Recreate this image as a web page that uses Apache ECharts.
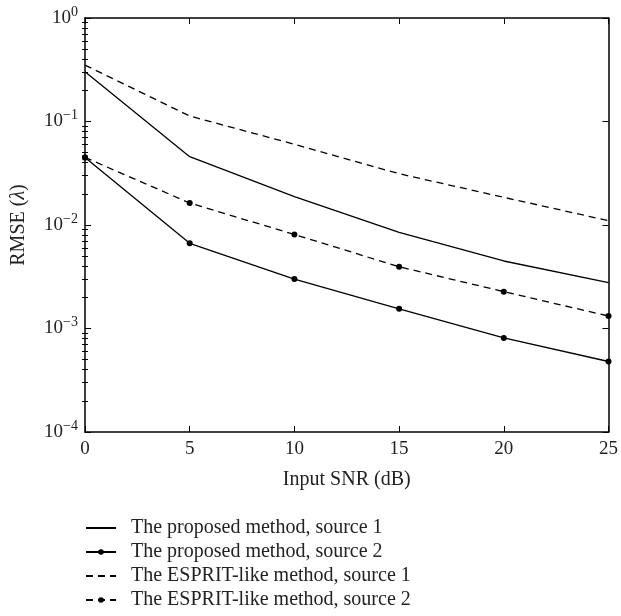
<!DOCTYPE html>
<html>
<head>
<meta charset="utf-8">
<script src="https://cdn.jsdelivr.net/npm/echarts@6/dist/echarts.min.js"></script>
<style>html,body{margin:0;padding:0;background:#fff;}#c{width:621px;height:616px;}</style>
</head>
<body>
<div id="c"></div>
<script>
const snr = [0, 5, 10, 15, 20, 25];
const proposedSrc1 = [0.303, 0.0457, 0.0188, 0.0085, 0.00449, 0.00277];
const proposedSrc2 = [0.045, 0.00665, 0.0030, 0.00155, 0.00081, 0.00048];
const espritSrc1 = [0.351, 0.113, 0.0602, 0.0313, 0.0185, 0.0110];
const espritSrc2 = [0.045, 0.0163, 0.0081, 0.00395, 0.00227, 0.00132];
const seriesNames = [
  'The proposed method, source 1',
  'The proposed method, source 2',
  'The ESPRIT-like method, source 1',
  'The ESPRIT-like method, source 2'
];
const majorY = [1e-4, 1e-3, 1e-2, 1e-1, 1];
const minorY = [];
for (let e = -4; e < 0; e++) for (let m = 2; m <= 9; m++) minorY.push(m * Math.pow(10, e));
const xTicks = [0, 5, 10, 15, 20, 25];

const FONT = 'Liberation Serif';
const C = '#222';
const pairs = a => snr.map((x, i) => [x, a[i]]);
const hidden = { color: 'rgba(0,0,0,0)', borderWidth: 0, opacity: 0 };

const yBase = {
  type: 'log', min: 1e-4, max: 1, logBase: 10,
  splitLine: { show: false },
  axisLine: { show: false }
};

const chart = echarts.init(document.getElementById('c'), null, { renderer: 'canvas' });
chart.setOption({
  animation: false,
  grid: { left: 85, right: 11, top: 18, bottom: 184, containLabel: false },
  legend: {
    orient: 'vertical', left: 85, top: 518, padding: 0,
    itemWidth: 30, itemHeight: 7, itemGap: 4,
    textStyle: { fontFamily: FONT, fontSize: 20, color: C, lineHeight: 20, padding: [0, 0, 0, 10] },
    data: [
      { name: seriesNames[0], itemStyle: hidden },
      { name: seriesNames[1] },
      { name: seriesNames[2], itemStyle: hidden },
      { name: seriesNames[3] }
    ]
  },
  xAxis: [
    {
      type: 'value', min: 0, max: 25, interval: 5, position: 'bottom',
      name: 'Input SNR (dB)', nameLocation: 'middle', nameGap: 38,
      nameTextStyle: { fontFamily: FONT, fontSize: 20, color: C },
      axisLine: { show: true, onZero: false, lineStyle: { color: '#000', width: 1.5 } },
      axisTick: { show: true, inside: true, length: 6, lineStyle: { color: '#000' }, customValues: xTicks },
      axisLabel: { fontFamily: FONT, fontSize: 19, color: C, margin: 8, customValues: xTicks },
      splitLine: { show: false }
    },
    {
      type: 'value', min: 0, max: 25, interval: 5, position: 'top',
      axisLine: { show: true, onZero: false, lineStyle: { color: '#000', width: 1.5 } },
      axisTick: { show: true, inside: true, length: 6, lineStyle: { color: '#000' }, customValues: xTicks },
      axisLabel: { show: false },
      splitLine: { show: false }
    }
  ],
  yAxis: [
    Object.assign({}, yBase, {
      position: 'left',
      name: '{n|RMSE (}{l|λ}{n|)}', nameLocation: 'middle', nameGap: 56,
      nameTextStyle: { rich: { n: { fontFamily: FONT, fontSize: 20, color: C }, l: { fontFamily: FONT, fontSize: 20, color: C, fontStyle: 'italic' } } },
      axisLine: { show: true, onZero: false, lineStyle: { color: '#000', width: 1.5 } },
      axisTick: { show: true, inside: true, length: 6, lineStyle: { color: '#000' }, customValues: majorY },
      axisLabel: {
        customValues: majorY, margin: 7,
        formatter: v => '{b|10}{s|' + String(Math.round(Math.log10(v))).replace('-', '−') + '}',
        rich: {
          b: { fontFamily: FONT, fontSize: 19, color: C },
          s: { fontFamily: FONT, fontSize: 14, color: C, verticalAlign: 'top', padding: [0, 0, 12, 0] }
        }
      }
    }),
    Object.assign({}, yBase, {
      position: 'right',
      axisLine: { show: true, onZero: false, lineStyle: { color: '#000', width: 1.5 } },
      axisTick: { show: true, inside: true, length: 6, lineStyle: { color: '#000' }, customValues: majorY },
      axisLabel: { show: false }
    }),
    Object.assign({}, yBase, {
      position: 'left',
      axisTick: { show: true, inside: true, length: 3, lineStyle: { color: '#000' }, customValues: minorY },
      axisLabel: { show: false }
    }),
    Object.assign({}, yBase, {
      position: 'right',
      axisTick: { show: true, inside: true, length: 3, lineStyle: { color: '#000' }, customValues: minorY },
      axisLabel: { show: false }
    })
  ],
  series: [
    { name: seriesNames[0], type: 'line', data: pairs(proposedSrc1), symbol: 'none',
      lineStyle: { color: '#000', width: 1.3, type: 'solid' }, itemStyle: { color: '#000' } },
    { name: seriesNames[1], type: 'line', data: pairs(proposedSrc2), symbol: 'circle', symbolSize: 6,
      lineStyle: { color: '#000', width: 1.3, type: 'solid' }, itemStyle: { color: '#000' } },
    { name: seriesNames[2], type: 'line', data: pairs(espritSrc1), symbol: 'none',
      lineStyle: { color: '#000', width: 1.3, type: [7, 5] }, itemStyle: { color: '#000' } },
    { name: seriesNames[3], type: 'line', data: pairs(espritSrc2), symbol: 'circle', symbolSize: 6,
      lineStyle: { color: '#000', width: 1.3, type: [7, 5] }, itemStyle: { color: '#000' } }
  ]
});
</script>
</body>
</html>
